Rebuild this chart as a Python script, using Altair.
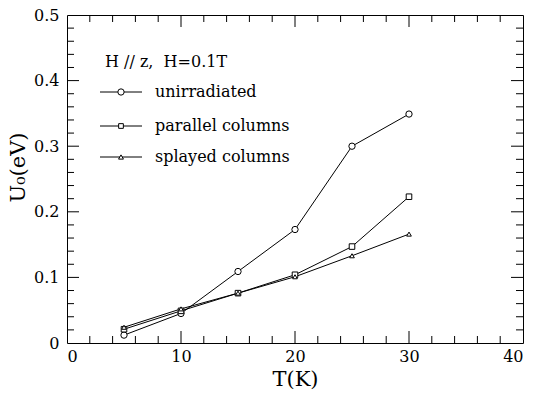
import altair as alt
import pandas as pd

# ---- data ----
temps = [5, 10, 15, 20, 25, 30]
unirradiated = [0.012, 0.045, 0.109, 0.173, 0.300, 0.349]
parallel_cols = [0.021, 0.049, 0.076, 0.104, 0.147, 0.223]
splayed_cols = [0.024, 0.052, 0.076, 0.101, 0.133, 0.166]
series_names = ["unirradiated", "parallel columns", "splayed columns"]
header_text = "H // z,\u00a0\u00a0H=0.1T"

x_labels = [0, 10, 20, 30, 40]
y_labels = [0, 0.1, 0.2, 0.3, 0.4, 0.5]
x_major = [10, 20, 30]
x_minor = [2, 4, 6, 8, 12, 14, 16, 18, 22, 24, 26, 28, 32, 34, 36, 38]
y_major = [0.1, 0.2, 0.3, 0.4]
y_minor = [0.02, 0.04, 0.06, 0.08, 0.12, 0.14, 0.16, 0.18, 0.22, 0.24, 0.26,
           0.28, 0.32, 0.34, 0.36, 0.38, 0.42, 0.44, 0.46, 0.48]

# ---- styles ----
W, H = 456, 328
FONT = "DejaVu Serif"
LBL = 16
shapes = ["circle", "square", "triangle-up"]
sizes = [40, 22, 24]
MAJ, MIN = 12, 7

rows = []
for name, vals in zip(series_names, [unirradiated, parallel_cols, splayed_cols]):
    for t, v in zip(temps, vals):
        rows.append({"T": t, "U": v, "series": name})
df = pd.DataFrame(rows)

xscale = alt.Scale(domain=[0, 40], nice=False, zero=False)
yscale = alt.Scale(domain=[0, 0.5], nice=False, zero=False)

x_axis = alt.Axis(
    values=x_labels, ticks=False, domain=False, grid=False,
    labelFont=FONT, labelFontSize=LBL, labelColor="black", labelPadding=5,
    title="T(K)", titleFont=FONT, titleFontSize=21, titleFontWeight="normal",
    titleColor="black", titleBaseline="middle", titleY=36)
y_axis = alt.Axis(
    values=y_labels, ticks=False, domain=False, grid=False,
    labelExpr="datum.value == 0 ? '0' : format(datum.value, '.1f')",
    labelFont=FONT, labelFontSize=LBL, labelColor="black", labelPadding=8,
    title="U₀(eV)", titleFont=FONT, titleFontSize=21, titleFontWeight="normal",
    titleColor="black", titleAngle=-90, titleAlign="center",
    titleBaseline="middle", titleX=-49, titleY=152)


def X(field):
    return alt.X(field, scale=xscale, axis=x_axis, title="T(K)")


def Y(field):
    return alt.Y(field, scale=yscale, axis=y_axis, title="U₀(eV)")


lines = alt.Chart(df).mark_line(color="black", strokeWidth=1).encode(
    x=X("T:Q"), y=Y("U:Q"), detail="series:N")

points = alt.Chart(df).mark_point(
    filled=True, fill="white", stroke="black", strokeWidth=1, opacity=1
).encode(
    x=X("T:Q"), y=Y("U:Q"),
    shape=alt.Shape("series:N", scale=alt.Scale(domain=series_names, range=shapes), legend=None),
    size=alt.Size("series:N", scale=alt.Scale(domain=series_names, range=sizes), legend=None),
)


def yticks(vals, x0, x1):
    return alt.Chart(pd.DataFrame({"v": vals})).mark_rule(color="black", strokeWidth=1).encode(
        y=Y("v:Q"), x=alt.value(x0), x2=alt.value(x1))


def xticks(vals, y0, y1):
    return alt.Chart(pd.DataFrame({"v": vals})).mark_rule(color="black", strokeWidth=1).encode(
        x=X("v:Q"), y=alt.value(y0), y2=alt.value(y1))


ticks = [
    yticks(y_major, 0, MAJ), yticks(y_minor, 0, MIN),
    yticks(y_major, W, W - MAJ), yticks(y_minor, W, W - MIN),
    xticks(x_major, H, H - MAJ), xticks(x_minor, H, H - MIN),
    xticks(x_major, 0, MAJ), xticks(x_minor, 0, MIN),
]

# ---- in-plot legend ----
legend_layers = []
hdr = alt.Chart(pd.DataFrame({"t": [header_text]})).mark_text(
    align="left", baseline="middle", font=FONT, fontSize=LBL, color="black"
).encode(text="t:N", x=alt.value(38), y=alt.value(47))
legend_layers.append(hdr)
row_y = [77, 111, 142]
for name, shp, sz, ry in zip(series_names, shapes, sizes, row_y):
    d = pd.DataFrame({"name": [name]})
    legend_layers.append(alt.Chart(d).mark_rule(color="black", strokeWidth=1).encode(
        x=alt.value(33), x2=alt.value(75), y=alt.value(ry)))
    legend_layers.append(alt.Chart(d).mark_point(
        shape=shp, size=sz, filled=True, fill="white", stroke="black", strokeWidth=1, opacity=1
    ).encode(x=alt.value(54), y=alt.value(ry)))
    legend_layers.append(alt.Chart(d).mark_text(
        align="left", baseline="middle", font=FONT, fontSize=LBL, color="black"
    ).encode(text="name:N", x=alt.value(88), y=alt.value(ry)))

chart = alt.layer(lines, points, *ticks, *legend_layers).properties(
    width=W, height=H,
    autosize=alt.AutoSizeParams(type="none"),
    padding={"left": 67, "top": 15, "right": 11, "bottom": 51},
    background="white",
).configure_view(stroke="black", strokeWidth=1)

chart.save("out.html", embed_options={"renderer": "svg", "actions": False})
